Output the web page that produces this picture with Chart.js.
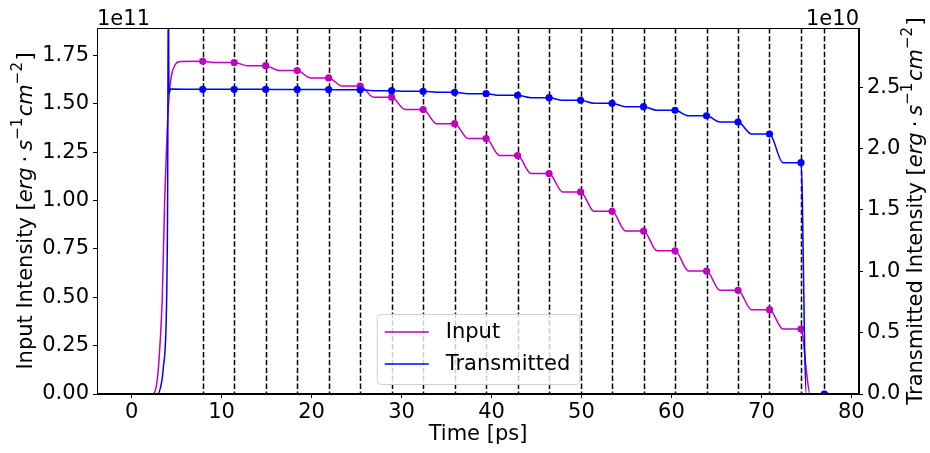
<!DOCTYPE html>
<html>
<head>
<meta charset="utf-8">
<script src="https://cdn.jsdelivr.net/npm/chart.js@4/dist/chart.umd.min.js"></script>
<style>
  html, body { margin: 0; padding: 0; background: #fff; }
  canvas { display: block; }
</style>
</head>
<body>
<canvas id="pulseChart" width="930" height="453"></canvas>
<script>
// Input intensity curve (units of 1e11 erg s^-1 cm^-2)
const inputTime = [0, 2.3, 2.7, 3.0, 3.4, 3.67, 3.9, 4.1, 4.4, 4.8, 5.4, 7.9,
  9.4, 11.4, 12.9, 14.9, 16.4, 18.4, 19.9, 21.9, 23.4, 25.4, 26.9, 28.9, 30.4, 32.4,
  33.9, 35.9, 37.4, 39.4, 40.9, 42.9, 44.4, 46.4, 47.9, 49.9, 51.4, 53.4, 54.9, 56.9,
  58.4, 60.4, 61.9, 63.9, 65.4, 67.4, 68.9, 70.9, 72.4, 74.4, 74.6, 75.0, 75.4, 77.0];
const inputValue = [0, 0, 0.03, 0.15, 0.49, 1.0, 1.3, 1.5, 1.64, 1.70, 1.72, 1.721,
  1.714, 1.714, 1.698, 1.698, 1.673, 1.673, 1.635, 1.635, 1.593, 1.593, 1.535, 1.535, 1.471, 1.471,
  1.398, 1.398, 1.321, 1.321, 1.233, 1.233, 1.140, 1.140, 1.045, 1.045, 0.945, 0.945, 0.843, 0.843,
  0.741, 0.741, 0.636, 0.636, 0.536, 0.536, 0.436, 0.436, 0.336, 0.336, 0.30, 0.12, 0, 0];

// Transmitted intensity curve (units of 1e10 erg s^-1 cm^-2)
const transTime = [0, 2.85, 3.2, 3.5, 3.89, 4.0, 4.08, 4.15, 4.3, 7.9,
  9.4, 11.4, 12.9, 14.9, 16.4, 18.4, 19.9, 21.9, 23.4, 25.4, 26.9, 28.9, 30.4, 32.4,
  33.9, 35.9, 37.4, 39.4, 40.9, 42.9, 44.4, 46.4, 47.9, 49.9, 51.4, 53.4, 54.9, 56.9,
  58.4, 60.4, 61.9, 63.9, 65.4, 67.4, 68.9, 70.9, 72.4, 74.4, 74.55, 74.8, 75.0, 77.0];
const transValue = [0, 0, 0.05, 0.2, 0.77, 1.6, 3.4, 2.45, 2.485, 2.483,
  2.483, 2.483, 2.483, 2.483, 2.482, 2.482, 2.481, 2.481, 2.479, 2.479, 2.472, 2.472, 2.467, 2.467,
  2.459, 2.459, 2.448, 2.448, 2.434, 2.434, 2.415, 2.415, 2.394, 2.394, 2.369, 2.369, 2.342, 2.342,
  2.312, 2.312, 2.268, 2.268, 2.217, 2.217, 2.119, 2.119, 1.885, 1.885, 1.6, 0.4, 0, 0];

// Sample times (dashed lines) and the marked values there
const sampleTimes = [7.9, 11.4, 14.9, 18.4, 21.9, 25.4, 28.9, 32.4, 35.9, 39.4, 42.9,
  46.4, 49.9, 53.4, 56.9, 60.4, 63.9, 67.4, 70.9, 74.4, 77.0];
const inputMarks = [1.721, 1.714, 1.698, 1.673, 1.635, 1.593, 1.535, 1.471, 1.398, 1.321, 1.233,
  1.140, 1.045, 0.945, 0.843, 0.741, 0.636, 0.536, 0.436, 0.336, 0];
const transMarks = [2.483, 2.483, 2.483, 2.482, 2.481, 2.479, 2.472, 2.467, 2.459, 2.448, 2.434,
  2.415, 2.394, 2.369, 2.342, 2.312, 2.268, 2.217, 2.119, 1.885, 0];

const xTicks = [0, 10, 20, 30, 40, 50, 60, 70, 80];
const leftTicks = [0, 0.25, 0.5, 0.75, 1.0, 1.25, 1.5, 1.75];
const rightTicks = [0, 0.5, 1.0, 1.5, 2.0, 2.5];

const MAGENTA = '#bf00bf';
const BLUE = '#0000ff';
const FONT = '"DejaVu Sans", sans-serif';
const FS = 21;

function pts(xs, ys) {
  return xs.map((x, i) => ({ x: x, y: ys[i] }));
}

// draw a string made of plain / italic / superscript pieces, rotated -90deg
function drawRich(ctx, parts, cx, cy) {
  ctx.save();
  ctx.translate(cx, cy);
  ctx.rotate(-Math.PI / 2);
  ctx.fillStyle = '#000';
  ctx.textBaseline = 'alphabetic';
  ctx.textAlign = 'left';
  const fontOf = p => (p.it ? 'italic ' : '') + (p.sup ? '15px ' : FS + 'px ') + FONT;
  let total = 0;
  parts.forEach(p => { ctx.font = fontOf(p); total += ctx.measureText(p.t).width + (p.gap || 0); });
  let x = -total / 2;
  parts.forEach(p => {
    ctx.font = fontOf(p);
    ctx.fillText(p.t, x, p.sup ? -2 : 8);
    x += ctx.measureText(p.t).width + (p.gap || 0);
  });
  ctx.restore();
}

function unitParts(prefix) {
  return [
    { t: prefix },
    { t: 'erg', it: true, gap: 5 },
    { t: '·', gap: 5 },
    { t: 's', it: true },
    { t: '−1', sup: true, gap: 1.5 },
    { t: 'cm', it: true },
    { t: '−2', sup: true, gap: 1.5 },
    { t: ']' }
  ];
}

const decorations = {
  id: 'decorations',
  beforeDatasetsDraw(chart) {
    const { ctx, chartArea, scales } = chart;
    ctx.save();
    ctx.beginPath();
    ctx.rect(chartArea.left, chartArea.top, chartArea.right - chartArea.left, chartArea.bottom - chartArea.top);
    ctx.clip();
    ctx.strokeStyle = '#000';
    ctx.lineWidth = 1.5;
    ctx.setLineDash([5.5, 2.4]);
    sampleTimes.forEach(t => {
      const x = Math.round(scales.x.getPixelForValue(t)) + 0.5;
      ctx.beginPath();
      ctx.moveTo(x, chartArea.top);
      ctx.lineTo(x, chartArea.bottom);
      ctx.stroke();
    });
    ctx.restore();
  },
  afterDraw(chart) {
    const { ctx, chartArea } = chart;
    ctx.save();
    // frame
    ctx.strokeStyle = '#000';
    ctx.lineWidth = 1;
    ctx.strokeRect(chartArea.left + 0.5, chartArea.top + 0.5,
      chartArea.right - chartArea.left - 1, chartArea.bottom - chartArea.top - 1);

    // offset texts
    ctx.fillStyle = '#000';
    ctx.font = FS + 'px ' + FONT;
    ctx.textBaseline = 'alphabetic';
    ctx.textAlign = 'left';
    ctx.fillText('1e11', chartArea.left, 25);
    ctx.textAlign = 'right';
    ctx.fillText('1e10', chartArea.right, 25);

    // x title
    ctx.textAlign = 'center';
    ctx.fillText('Time [ps]', (chartArea.left + chartArea.right) / 2, 440);

    // y titles
    const midY = (chartArea.top + chartArea.bottom) / 2;
    drawRich(ctx, unitParts('Input Intensity ['), 24, midY);
    drawRich(ctx, unitParts('Transmitted Intensity ['), 914, midY);

    // legend
    const entries = [
      { label: chart.data.datasets[0].label, color: MAGENTA },
      { label: chart.data.datasets[2].label, color: BLUE }
    ];
    ctx.font = FS + 'px ' + FONT;
    const textW = Math.max(...entries.map(e => ctx.measureText(e.label).width));
    const w = 8 + 44 + 17 + textW + 9;
    const h = 70;
    const bx = (chartArea.left + chartArea.right) / 2 - w / 2;
    const by = chartArea.bottom - 10 - h;
    ctx.beginPath();
    ctx.roundRect(bx + 0.5, by + 0.5, w, h, 4);
    ctx.fillStyle = 'rgba(255,255,255,0.8)';
    ctx.fill();
    ctx.strokeStyle = '#d0d0d0';
    ctx.lineWidth = 1;
    ctx.stroke();
    entries.forEach((e, i) => {
      const y = by + 18 + i * 32;
      ctx.strokeStyle = e.color;
      ctx.lineWidth = 1.5;
      ctx.beginPath();
      ctx.moveTo(bx + 8, y);
      ctx.lineTo(bx + 52, y);
      ctx.stroke();
      ctx.fillStyle = '#000';
      ctx.textAlign = 'left';
      ctx.textBaseline = 'middle';
      ctx.fillText(e.label, bx + 69, y + 1);
    });
    ctx.restore();
  }
};

const axisLook = {
  grid: { display: true, drawOnChartArea: false, drawTicks: true, tickLength: 4, tickWidth: 1, tickColor: '#000' },
  border: { display: true, color: '#000', width: 1 }
};

new Chart(document.getElementById('pulseChart'), {
  type: 'line',
  data: {
    datasets: [
      {
        label: 'Input',
        data: pts(inputTime, inputValue),
        yAxisID: 'yL',
        borderColor: MAGENTA,
        borderWidth: 1.5,
        pointRadius: 0,
        cubicInterpolationMode: 'monotone',
        order: 3
      },
      {
        label: 'Input samples',
        data: pts(sampleTimes, inputMarks),
        yAxisID: 'yL',
        showLine: false,
        pointRadius: 3.6,
        pointBorderWidth: 0,
        pointBackgroundColor: MAGENTA,
        order: 2
      },
      {
        label: 'Transmitted',
        data: pts(transTime, transValue),
        yAxisID: 'yR',
        borderColor: BLUE,
        borderWidth: 1.5,
        pointRadius: 0,
        cubicInterpolationMode: 'monotone',
        order: 1
      },
      {
        label: 'Transmitted samples',
        data: pts(sampleTimes, transMarks),
        yAxisID: 'yR',
        showLine: false,
        pointRadius: 3.6,
        pointBorderWidth: 0,
        pointBackgroundColor: BLUE,
        order: 0
      }
    ]
  },
  options: {
    responsive: false,
    animation: false,
    events: [],
    layout: { padding: { top: 28, left: 0, right: 0, bottom: 0 } },
    plugins: {
      legend: { display: false },
      tooltip: { enabled: false }
    },
    scales: {
      x: {
        type: 'linear',
        min: -3.85,
        max: 80.85,
        afterFit: s => { s.height = 59; },
        afterBuildTicks: s => { s.ticks = xTicks.map(v => ({ value: v })); },
        ticks: { color: '#000', font: { family: FONT, size: FS }, padding: 2, maxRotation: 0,
          callback: v => String(v) },
        ...axisLook
      },
      yL: {
        type: 'linear',
        position: 'left',
        min: 0,
        max: 1.893,
        afterFit: s => { s.width = 97; },
        afterBuildTicks: s => { s.ticks = leftTicks.map(v => ({ value: v })); },
        ticks: { color: '#000', font: { family: FONT, size: FS }, padding: 4,
          callback: v => v.toFixed(2) },
        ...axisLook
      },
      yR: {
        type: 'linear',
        position: 'right',
        min: 0,
        max: 2.983,
        afterFit: s => { s.width = 71; },
        afterBuildTicks: s => { s.ticks = rightTicks.map(v => ({ value: v })); },
        ticks: { color: '#000', font: { family: FONT, size: FS }, padding: 4,
          callback: v => v.toFixed(1) },
        ...axisLook
      }
    }
  },
  plugins: [decorations]
});
</script>
</body>
</html>
